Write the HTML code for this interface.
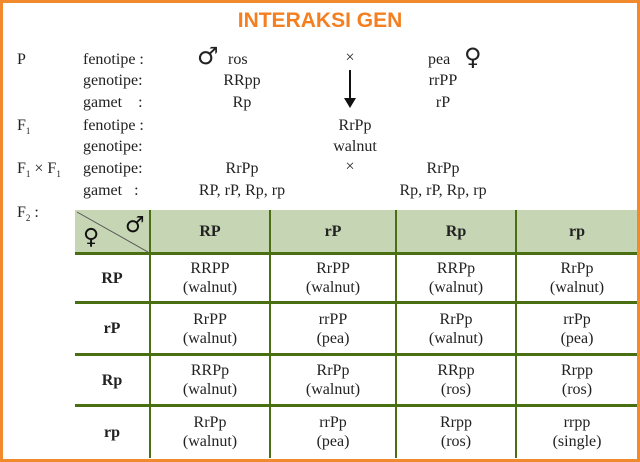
<!DOCTYPE html>
<html><head><meta charset="utf-8"><style>
body{margin:0;width:640px;height:462px;overflow:hidden;background:#fff}
.frame{position:absolute;left:0;top:0;width:634px;height:456px;border:3px solid #f08a2c}
.t{position:absolute;font-family:"Liberation Serif","DejaVu Serif",serif;font-size:16px;color:#222;white-space:nowrap;line-height:18px}
.c{transform:translateX(-50%)}
.title{position:absolute;left:0;width:640px;top:9px;text-align:center;font-family:"Liberation Sans",sans-serif;font-weight:bold;font-size:21px;color:#f47f20}
table{position:absolute;left:75px;top:210px;border-collapse:collapse;font-family:"Liberation Serif",serif;font-size:16px;color:#222}
td{border-left:2px solid #4a6e12;border-top:3px solid #4a6e12;text-align:center;padding:0;line-height:19px}
tr:first-child td{border-top:none;background:#c6d6b4;font-weight:bold;height:42px}
td:first-child{border-left:none;font-weight:bold}
</style></head><body>
<div class="frame"></div>
<div class="title">INTERAKSI GEN</div>
<div class="t" style="left:17px;top:51px">P</div>
<div class="t" style="left:83px;top:51px">fenotipe :</div>
<div class="t" style="left:83px;top:72px">genotipe:</div>
<div class="t" style="left:83px;top:94px">gamet&nbsp;&nbsp;&nbsp;&nbsp;:</div>
<div class="t" style="left:17px;top:117px">F<sub style="font-size:9px">1</sub></div>
<div class="t" style="left:83px;top:117px">fenotipe :</div>
<div class="t" style="left:83px;top:138px">genotipe:</div>
<div class="t" style="left:17px;top:160px">F<sub style="font-size:9px">1</sub> × F<sub style="font-size:9px">1</sub></div>
<div class="t" style="left:83px;top:160px">genotipe:</div>
<div class="t" style="left:83px;top:182px">gamet&nbsp;&nbsp;&nbsp;:</div>
<div class="t" style="left:17px;top:204px">F<sub style="font-size:9px">2</sub> :</div>
<div class="t" style="left:197px;top:47px;font-size:24px;font-family:'DejaVu Sans',sans-serif">♂</div>
<div class="t" style="left:228px;top:51px">ros</div>
<div class="t c" style="left:350px;top:49px">×</div>
<div class="t" style="left:428px;top:51px">pea</div>
<div class="t" style="left:464px;top:48px;font-size:24px;font-family:'DejaVu Sans',sans-serif">♀</div>
<div class="t c" style="left:242px;top:72px">RRpp</div>
<div class="t c" style="left:443px;top:72px">rrPP</div>
<div class="t c" style="left:242px;top:94px">Rp</div>
<div class="t c" style="left:443px;top:94px">rP</div>
<svg style="position:absolute;left:340px;top:68px" width="20" height="42"><line x1="10" y1="2" x2="10" y2="32" stroke="#111" stroke-width="2"/><polygon points="4,30 16,30 10,40" fill="#111"/></svg>
<div class="t c" style="left:355px;top:117px">RrPp</div>
<div class="t c" style="left:355px;top:138px">walnut</div>
<div class="t c" style="left:242px;top:160px">RrPp</div>
<div class="t c" style="left:350px;top:158px">×</div>
<div class="t c" style="left:443px;top:160px">RrPp</div>
<div class="t c" style="left:242px;top:182px">RP, rP, Rp, rp</div>
<div class="t c" style="left:443px;top:182px">Rp, rP, Rp, rp</div>
<table>
<colgroup><col style="width:75px"><col style="width:120px"><col style="width:126px"><col style="width:120px"><col style="width:121px"></colgroup>
<tr><td style="position:relative"><svg style="position:absolute;left:0;top:0" width="75" height="42"><line x1="2" y1="2" x2="73" y2="42" stroke="#555" stroke-width="1"/><text x="8" y="34" font-size="22" font-family="DejaVu Sans" fill="#111">♀</text><text x="50" y="22" font-size="22" font-family="DejaVu Sans" fill="#111">♂</text></svg></td><td>RP</td><td>rP</td><td>Rp</td><td>rp</td></tr>
<tr style="height:49px"><td>RP</td><td>RRPP<br>(walnut)</td><td>RrPP<br>(walnut)</td><td>RRPp<br>(walnut)</td><td>RrPp<br>(walnut)</td></tr>
<tr style="height:52px"><td>rP</td><td>RrPP<br>(walnut)</td><td>rrPP<br>(pea)</td><td>RrPp<br>(walnut)</td><td>rrPp<br>(pea)</td></tr>
<tr style="height:51px"><td>Rp</td><td>RRPp<br>(walnut)</td><td>RrPp<br>(walnut)</td><td>RRpp<br>(ros)</td><td>Rrpp<br>(ros)</td></tr>
<tr style="height:52px"><td>rp</td><td>RrPp<br>(walnut)</td><td>rrPp<br>(pea)</td><td>Rrpp<br>(ros)</td><td>rrpp<br>(single)</td></tr>
</table>
</body></html>
